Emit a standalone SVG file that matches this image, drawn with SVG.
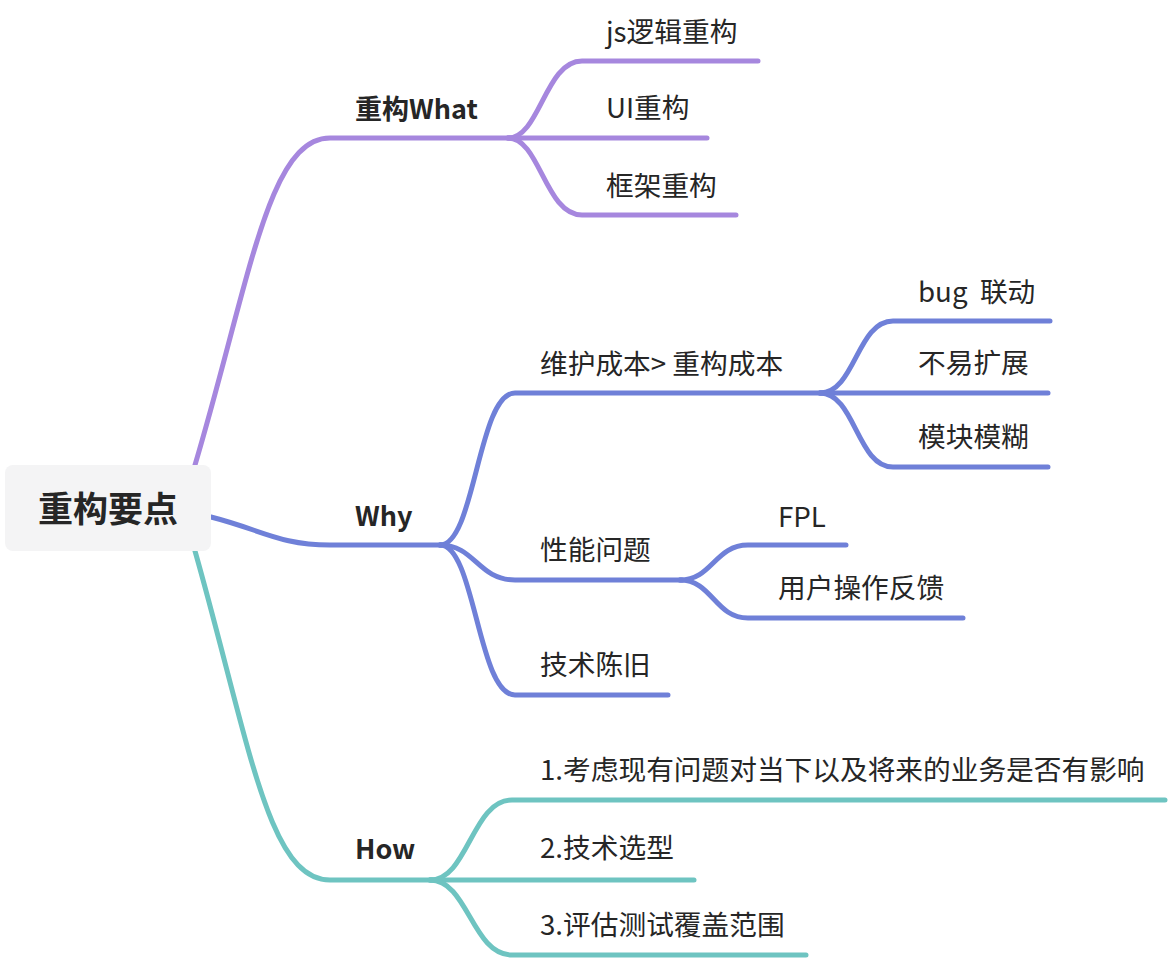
<svg xmlns="http://www.w3.org/2000/svg" width="1168" height="960" viewBox="0 0 1168 960">
<style>
.t{font-family:"Noto Sans CJK SC","Noto Sans",sans-serif;font-size:27.7px;fill:#262626}
.b{font-weight:bold;font-size:27px}
.l{fill:none;stroke-width:5;stroke-linecap:round}
.p{stroke:#a687de}
.u{stroke:#6f80d8}
.g{stroke:#6ec4c1}
</style>
<rect width="1168" height="960" fill="#ffffff"/>
<g id="connectors">
<path class="l p" d="M195,465 C250,280 268,138 330,138 L510,138"/>
<path class="l p" d="M508,138 C540,138 545,61 582,61 L758,61"/>
<path class="l p" d="M508,138 L707,138"/>
<path class="l p" d="M508,138 C540,138 545,215 582,215 L736,215"/>
<path class="l u" d="M211,517 C262,530 280,545 330,545 L442,545"/>
<path class="l u" d="M440,545 C475,545 478,393 515,393 L822,393"/>
<path class="l u" d="M440,545 C475,545 478,580 515,580 L682,580"/>
<path class="l u" d="M440,545 C475,545 478,695 515,695 L668,695"/>
<path class="l u" d="M820,393 C855,393 857,321 893,321 L1050,321"/>
<path class="l u" d="M820,393 L1048,393"/>
<path class="l u" d="M820,393 C855,393 857,467 893,467 L1048,467"/>
<path class="l u" d="M680,580 C712,580 715,545 748,545 L846,545"/>
<path class="l u" d="M680,580 C712,580 715,618 748,618 L963,618"/>
<path class="l g" d="M195,551 C250,745 268,880 330,880 L432,880"/>
<path class="l g" d="M430,880 C468,880 472,800 512,800 L1165,800"/>
<path class="l g" d="M430,880 L694,880"/>
<path class="l g" d="M430,880 C468,880 472,955 512,955 L806,955"/>
</g>
<g id="root">
<rect x="5" y="465" width="206" height="86" rx="8" fill="#f4f4f5"/>
<text class="t b" x="108" y="522" text-anchor="middle" style="font-size:35px">重构要点</text>
</g>
<g id="what"><text class="t b" x="355" y="119">重构What</text></g>
<g id="what1"><text class="t" x="606" y="42">js逻辑重构</text></g>
<g id="what2"><text class="t" x="606" y="118">UI重构</text></g>
<g id="what3"><text class="t" x="606" y="196">框架重构</text></g>
<g id="why"><text class="t b" x="355" y="526">Why</text></g>
<g id="why1"><text class="t" x="540" y="374">维护成本&gt; 重构成本</text></g>
<g id="why11"><text class="t" x="918" y="302" xml:space="preserve">bug  联动</text></g>
<g id="why12"><text class="t" x="918" y="373">不易扩展</text></g>
<g id="why13"><text class="t" x="918" y="447">模块模糊</text></g>
<g id="why2"><text class="t" x="540" y="560">性能问题</text></g>
<g id="why21"><text class="t" x="778" y="527">FPL</text></g>
<g id="why22"><text class="t" x="778" y="598">用户操作反馈</text></g>
<g id="why3"><text class="t" x="540" y="675">技术陈旧</text></g>
<g id="how"><text class="t b" x="355" y="859">How</text></g>
<g id="how1"><text class="t" x="540" y="780">1.考虑现有问题对当下以及将来的业务是否有影响</text></g>
<g id="how2"><text class="t" x="540" y="858">2.技术选型</text></g>
<g id="how3"><text class="t" x="540" y="935">3.评估测试覆盖范围</text></g>
</svg>
